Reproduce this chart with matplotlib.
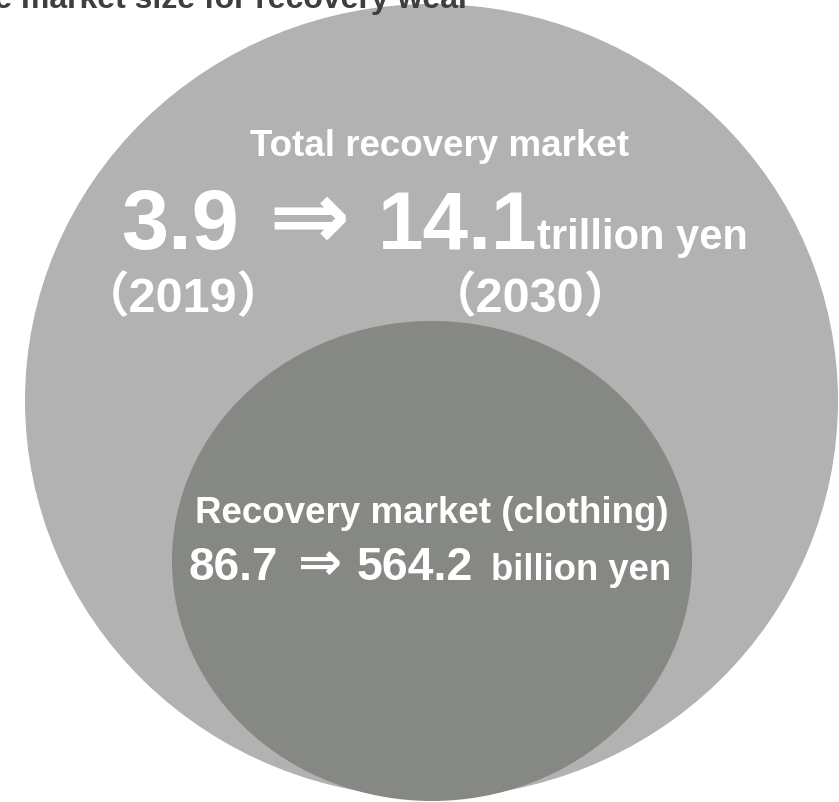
import matplotlib.pyplot as plt
from matplotlib.patches import Ellipse

# market size values
years = ["2019", "2030"]
total_market = [3.9, 14.1]  # trillion yen
clothing_market = [86.7, 564.2]  # billion yen

title = "Forecast of the market size for recovery wear"
total_label = "Total recovery market"
clothing_label = "Recovery market (clothing)"

LIGHT = "#b2b2b2"
DARK = "#868884"
FONT = ["Liberation Sans", "DejaVu Sans"]
FONT_CJK = ["Liberation Sans", "Noto Sans CJK JP"]

W, H = 839, 802
fig = plt.figure(figsize=(W / 100, H / 100), dpi=100)
ax = fig.add_axes([0, 0, 1, 1])
ax.set_xlim(0, W)
ax.set_ylim(H, 0)  # pixel-like coordinates, y downwards
ax.axis("off")

# nested bubbles: total market and the clothing part of it
ax.add_patch(Ellipse((431.5, 400.7), 2 * 406.5, 2 * 396.7, color=LIGHT, lw=0))
ax.add_patch(Ellipse((432, 561), 2 * 260, 2 * 240, color=DARK, lw=0))


def txt(x, y, s, size, ha="left", family=FONT, color="white"):
    ax.text(x, y, s, fontsize=size, ha=ha, va="baseline", color=color,
            fontweight="bold", family=family)


# title, partly running off the top-left of the canvas
txt(470, 8, title, 23, ha="right", color="#3f3f3f")

# total market
txt(439, 156, total_label, 26.5, ha="center")
txt(121, 249, f"{total_market[0]}", 61)
txt(268, 249, "⇒", 70, family=["DejaVu Sans"])
txt(378, 249, f"{total_market[1]}", 59)
txt(537, 249, "trillion yen", 30)
txt(183, 312, f"（{years[0]}）", 35, ha="center", family=FONT_CJK)
txt(530, 312, f"（{years[1]}）", 35, ha="center", family=FONT_CJK)

# clothing market
txt(432, 523, clothing_label, 26.5, ha="center")
txt(189, 580, f"{clothing_market[0]}", 33)
txt(298, 580, "⇒", 38, family=["DejaVu Sans"])
txt(357, 580, f"{clothing_market[1]}", 33.5)
txt(491, 580, "billion yen", 26.3)

fig.savefig("out.png", dpi=100)
